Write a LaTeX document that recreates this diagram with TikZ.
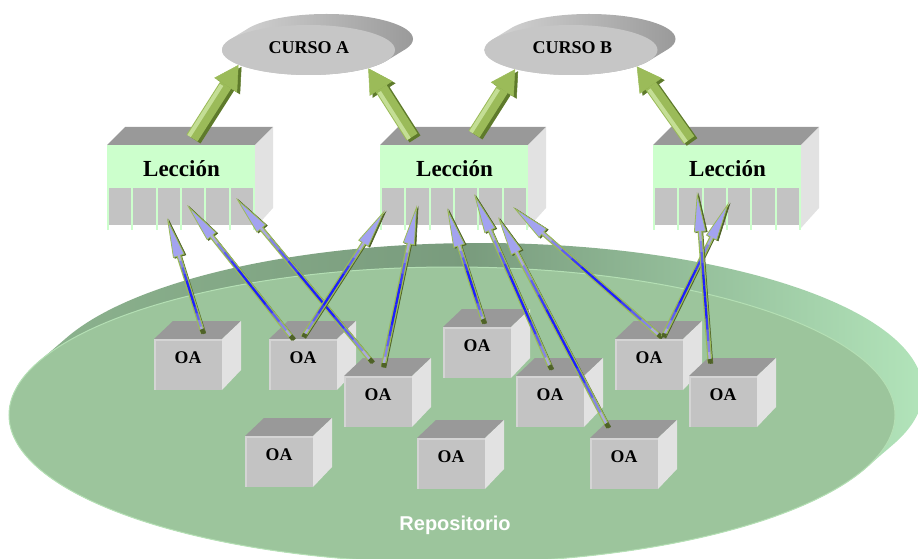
\documentclass[tikz,border=0pt]{standalone}
\usepackage{fontspec}
\setmainfont{Liberation Serif}
\newfontfamily\repfont{Liberation Sans}
\usetikzlibrary{calc,arrows.meta,shapes.geometric}

\definecolor{topgray}{HTML}{999999}
\definecolor{sidegray}{HTML}{E2E2E2}
\definecolor{frontgray}{HTML}{C3C3C3}
\definecolor{coursegray}{HTML}{C6C6C6}
\definecolor{bevelgray}{HTML}{D4D4D4}
\definecolor{headgreen}{HTML}{CCFFCC}
\definecolor{repface}{HTML}{9CC59C}
\definecolor{repedge}{HTML}{B4DFB4}
\definecolor{rimdark}{HTML}{799B7D}
\definecolor{rimleft}{HTML}{8DB48F}
\definecolor{rimlight}{HTML}{B2E4BA}
\definecolor{linkolive}{HTML}{9BBB59}
\definecolor{linkdark}{HTML}{4F6228}
\definecolor{linkhead}{HTML}{A3A3F0}
\definecolor{linkblue}{HTML}{1E1EFF}
\definecolor{linkpale}{HTML}{BDBDD6}
\definecolor{bigarrow}{HTML}{9BBB59}
\definecolor{bigarrowlight}{HTML}{C4DE95}
\definecolor{bigarrowdark}{HTML}{5E7A2B}
\definecolor{courselight}{HTML}{D6D6D6}
\definecolor{coursedark}{HTML}{9A9A9A}

\tikzset{
  oatext/.style={font=\bfseries\fontsize{17.8}{18}\selectfont, inner sep=0pt, anchor=base},
  lessontext/.style={font=\bfseries\fontsize{23}{24}\selectfont, inner sep=0pt, anchor=base},
  coursetext/.style={font=\bfseries\fontsize{18}{19}\selectfont, inner sep=0pt, anchor=base},
  reptext/.style={font=\repfont\bfseries\fontsize{20}{21}\selectfont, text=white, inner sep=0pt, anchor=base},
  coursedisc/.style={ellipse, fill=coursegray, minimum width=173pt, minimum height=50pt, inner sep=0pt},
}

% object cube: name, left x, top y of the front face
\newcommand\oacube[3]{%
  \fill[topgray] (#2,#3) -- (#2+19,#3-18) -- (#2+87,#3-18) -- (#2+68,#3) -- cycle;
  \fill[sidegray] (#2+68,#3) -- (#2+87,#3-18) -- (#2+87,#3+31) -- (#2+68,#3+51) -- cycle;
  \fill[frontgray] (#2,#3) rectangle (#2+68,#3+51);
  \draw[bevelgray, line width=1.5pt] (#2+0.75,#3+51) -- (#2+0.75,#3+0.75) -- (#2+68,#3+0.75);
  \node[oatext] (#1) at (#2+34,#3+24) {OA};
}

% lesson block: name, left x
\newcommand\lessonblock[2]{%
  \fill[topgray] (#2,145) -- (#2+18,127) -- (#2+166,127) -- (#2+148,145) -- cycle;
  \fill[sidegray] (#2+148,145) -- (#2+166,127) -- (#2+166,208) -- (#2+148,228) -- cycle;
  \fill[headgreen] (#2,145) rectangle (#2+148,188);
  \fill[frontgray] (#2,188) rectangle (#2+148,225);
  \foreach \i in {0,...,6} \draw[headgreen, line width=2pt] (#2+1+\i*24.33,188) -- (#2+1+\i*24.33,230);
  \node[lessontext] (#1) at (#2+74.5,176.7) {Lección};
}

% thin link from an object to a lesson cell
\newcommand\oalink[2]{%
  \draw[linkdark, line width=3.4pt, -{Triangle[length=40pt,width=12pt,line width=0.6pt]}]
    ($(#1)+(1.5,0.7)$) -- ($(#2)+(1.5,0.7)$);
  \draw[linkolive, line width=4.8pt, -{Triangle[length=40pt,width=12pt,line width=0.8pt,fill=linkhead]}]
    (#1) -- (#2);
  \coordinate (hb) at ($(#2)!38pt!(#1)$);
  \foreach \k in {0,...,11}{%
    \pgfmathsetmacro\mx{100*min(1,1.4*(1-abs(2*(\k+0.5)/12-1)))}
    \draw[line width=2.3pt, color=linkblue!\mx!linkpale]
      ($(#1)!\k/12!(hb)$) -- ($(#1)!{(\k+1)/12}!(hb)$);
  }
  \draw[linkdark, line width=4.5pt] ($(#1)+(0.6,0.3)$) -- ($(#1)!4pt!(#2)$);
}

% thick arrow from a lesson to a course
\newcommand\bigarrow[2]{%
  \draw[bigarrowdark, line width=13pt, -{Triangle[length=24pt,width=27pt,line width=0.5pt]}]
    ($(#1)+(3,2)$) -- ($(#2)+(3,2)$);
  \draw[bigarrow, line width=13pt, -{Triangle[length=24pt,width=27pt,line width=0.5pt]}]
    (#1) -- (#2);
  \draw[bigarrowlight, line width=4pt, shorten >=26pt]
    ($(#1)!3.5pt!90:(#2)$) -- ($(#2)!3.5pt!-90:(#1)$);
}

\begin{document}
\begin{tikzpicture}[x=1pt,y=-1pt]
\path[use as bounding box] (0,0) rectangle (918,559);
\clip (0,0) rectangle (918,559);

% repository disc: rim, then face
\shade[left color=rimleft, right color=rimlight, middle color=rimdark]
  \foreach \k in {0,...,14} { (452+\k*2,415-\k*1.714) ellipse [x radius=443, y radius=148] };
\draw[repedge, fill=repface, line width=1pt] (452,415) ellipse [x radius=443, y radius=148];
\node[reptext] (repo) at (455,530) {Repositorio};

% learning objects, back to front
\oacube{oa4}{443}{327}
\oacube{oa1}{154}{339}
\oacube{oa2}{269}{339}
\oacube{oa6}{615}{339}
\oacube{oa3}{344}{376}
\oacube{oa5}{516}{376}
\oacube{oa7}{689}{376}
\oacube{oa8}{245}{436}
\oacube{oa9}{417}{438}
\oacube{oa10}{590}{438}

% courses
\shade[left color=courselight, right color=coursedark]
  \foreach \k in {0,...,12} { (308.5+\k*1.5,50-\k*0.917) ellipse [x radius=86.5, y radius=25] };
\node[coursedisc] (cursoA) at (308.5,50) {};
\node[coursetext] (cursoAtxt) at (309,53.3) {CURSO A};
\shade[left color=courselight, right color=coursedark]
  \foreach \k in {0,...,12} { (571+\k*1.5,50-\k*0.917) ellipse [x radius=86.5, y radius=25] };
\node[coursedisc] (cursoB) at (571,50) {};
\node[coursetext] (cursoBtxt) at (572.5,53.3) {CURSO B};

% lessons
\lessonblock{L1}{107}
\lessonblock{L2}{380}
\lessonblock{L3}{653}

% link ends on the lesson cells
\coordinate (L1a) at (167,218);
\coordinate (L1b) at (187,205);
\coordinate (L1c) at (236,198);
\coordinate (L2a) at (385,210);
\coordinate (L2b) at (417,205);
\coordinate (L2c) at (447,208);
\coordinate (L2d) at (474,194);
\coordinate (L2e) at (498,217);
\coordinate (L2f) at (513,207);
\coordinate (L3a) at (729,202);
\coordinate (L3b) at (697,192);
% link ends on the object tops
\coordinate (oa1t) at (203,333);
\coordinate (oa2t) at (293,339);
\coordinate (oa2u) at (303,337);
\coordinate (oa3t) at (372,362);
\coordinate (oa3u) at (383,367);
\coordinate (oa4t) at (484,323);
\coordinate (oa5t) at (551,369);
\coordinate (oa10t) at (608,427);
\coordinate (oa6t) at (661,337);
\coordinate (oa6u) at (663,337);
\coordinate (oa7t) at (710,363);

\oalink{oa1t}{L1a}
\oalink{oa2t}{L1b}
\oalink{oa3t}{L1c}
\oalink{oa2u}{L2a}
\oalink{oa3u}{L2b}
\oalink{oa4t}{L2c}
\oalink{oa5t}{L2d}
\oalink{oa10t}{L2e}
\oalink{oa6t}{L2f}
\oalink{oa6u}{L3a}
\oalink{oa7t}{L3b}

% lesson tops to courses
\coordinate (L1top) at (192,138);
\coordinate (L2topA) at (412,137);
\coordinate (L2topB) at (474,134);
\coordinate (L3top) at (689,140);
\bigarrow{L1top}{cursoA.192}
\bigarrow{L2topA}{cursoA.343}
\bigarrow{L2topB}{cursoB.199}
\bigarrow{L3top}{cursoB.346}
\end{tikzpicture}
\end{document}
